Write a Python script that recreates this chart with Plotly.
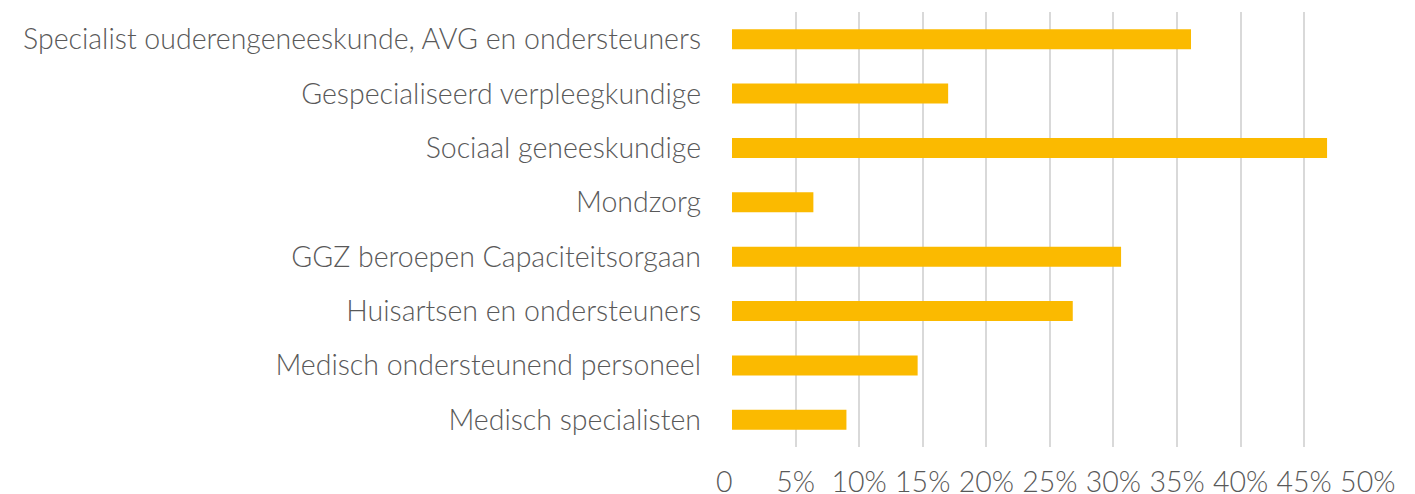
import plotly.graph_objects as go

categories = [
    "Specialist ouderengeneeskunde, AVG en ondersteuners",
    "Gespecialiseerd verpleegkundige",
    "Sociaal geneeskundige",
    "Mondzorg",
    "GGZ beroepen Capaciteitsorgaan",
    "Huisartsen en ondersteuners",
    "Medisch ondersteunend personeel",
    "Medisch specialisten",
]
values = [36.1, 17.0, 46.8, 6.4, 30.6, 26.8, 14.6, 9.0]
tick_vals = [0, 5, 10, 15, 20, 25, 30, 35, 40, 45, 50]
tick_text = ["0\u00a0\u00a0", "5%", "10%", "15%", "20%", "25%", "30%", "35%", "40%", "45%", "50%"]

FONT = "Lato"
TEXT = "#595959"
FS = 28.5

fig = go.Figure(go.Bar(
    y=categories,
    x=values,
    orientation="h",
    marker=dict(color="#FBBA00", line=dict(width=0)),
    width=0.37,
))

# page has an 8px body margin, so the figure is offset by 8px
fig.update_layout(
    width=1407, height=486,
    margin=dict(l=724, r=47, t=4, b=47),
    paper_bgcolor="white", plot_bgcolor="white",
    showlegend=False,
    font=dict(family=FONT, color=TEXT, size=FS),
)
fig.update_xaxes(
    range=[0, 50.02], tickvals=tick_vals, ticktext=tick_text,
    showgrid=True, gridcolor="#D9D9D9", gridwidth=2,
    zeroline=False, showline=False, ticks="",
    ticklabelstandoff=15, automargin=False,
    tickfont=dict(family=FONT, size=FS, color=TEXT, weight=300),
    fixedrange=True,
)
fig.update_yaxes(
    categoryorder="array", categoryarray=categories[::-1],
    showgrid=False, zeroline=False, showline=False, ticks="",
    ticklabelstandoff=30, automargin=False,
    tickfont=dict(family=FONT, size=FS, color=TEXT, weight=300),
    fixedrange=True,
)

fig.write_html("out.html")
